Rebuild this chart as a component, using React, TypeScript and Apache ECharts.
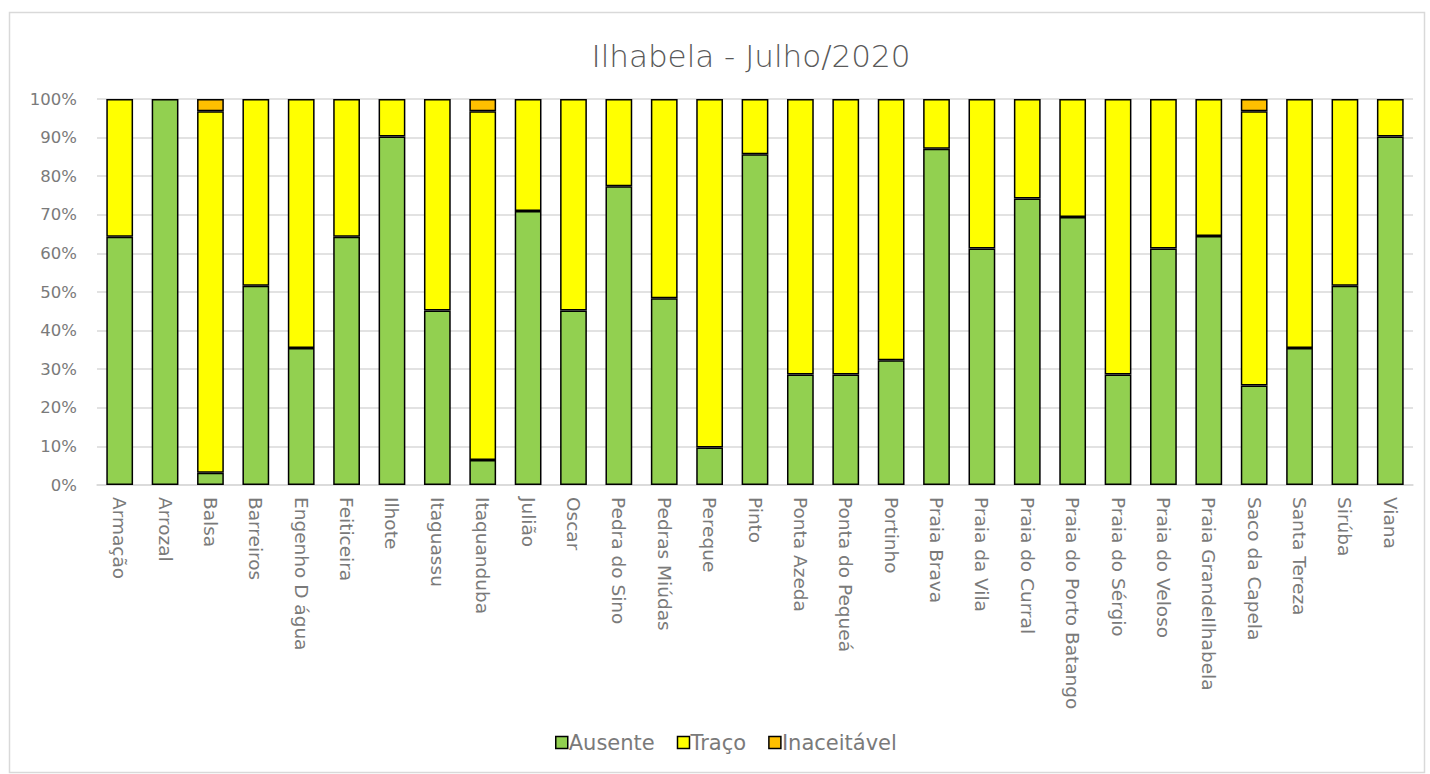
import React, { useEffect, useRef } from "react";
import * as echarts from "echarts";

const categories = [
  "Armação", "Arrozal", "Balsa", "Barreiros", "Engenho D água", "Feiticeira", "Ilhote",
  "Itaguassu", "Itaquanduba", "Julião", "Oscar", "Pedra do Sino", "Pedras Miúdas", "Pereque",
  "Pinto", "Ponta Azeda", "Ponta do Pequeá", "Portinho", "Praia Brava", "Praia da Vila",
  "Praia do Curral", "Praia do Porto Batango", "Praia do Sérgio", "Praia do Veloso",
  "Praia GrandeIlhabela", "Saco da Capela", "Santa Tereza", "Sirúba", "Viana",
];

const ausente = [
  64.3, 100, 3.2, 51.6, 35.5, 64.3, 90.3, 45.2, 6.5, 71.0, 45.2, 77.4, 48.4, 9.7,
  85.7, 28.6, 28.6, 32.3, 87.1, 61.3, 74.2, 69.4, 28.6, 61.3, 64.5, 25.8, 35.5, 51.6, 90.3,
];
const traco = [
  35.7, 0, 93.6, 48.4, 64.5, 35.7, 9.7, 54.8, 90.3, 29.0, 54.8, 22.6, 51.6, 90.3,
  14.3, 71.4, 71.4, 67.7, 12.9, 38.7, 25.8, 30.6, 71.4, 38.7, 35.5, 71.0, 64.5, 48.4, 9.7,
];
const inaceitavel = [
  0, 0, 3.2, 0, 0, 0, 0, 0, 3.2, 0, 0, 0, 0, 0,
  0, 0, 0, 0, 0, 0, 0, 0, 0, 0, 0, 3.2, 0, 0, 0,
];

const seriesNames = ["Ausente", "Traço", "Inaceitável"];
const seriesColors = ["#92d050", "#ffff00", "#ffc000"];
const yTicks = [0, 10, 20, 30, 40, 50, 60, 70, 80, 90, 100];

const FONT = "'DejaVu Sans', sans-serif";
const TEXT = "#7a7a7a";

export default function App() {
  const ref = useRef<HTMLDivElement>(null);
  useEffect(() => {
    if (!ref.current) return;
    const chart = echarts.init(ref.current, null, { renderer: "svg" });
    const data = [ausente, traco, inaceitavel];
    chart.setOption({
      animation: false,
      backgroundColor: "#ffffff",
      graphic: [
        {
          type: "rect",
          shape: { x: 9.5, y: 12.5, width: 1415, height: 760 },
          style: { fill: "none", stroke: "#d9d9d9", lineWidth: 1.5 },
          silent: true,
        },
        {
          type: "text",
          x: 751,
          y: 56,
          style: {
            text: "Ilhabela - Julho/2020",
            fill: "#595959",
            font: `300 31px ${FONT}`,
            textAlign: "center",
            textVerticalAlign: "middle",
          },
        },
      ],
      grid: { left: 97, right: 17, top: 99, bottom: 289, containLabel: false },
      legend: {
        bottom: 16,
        left: 550,
        itemWidth: 12,
        itemHeight: 12,
        itemGap: 22,
        icon: "rect",
        textStyle: { color: TEXT, fontSize: 21, fontFamily: FONT, padding: [0, 0, 0, -4] },
        data: seriesNames.map((n, i) => ({
          name: n,
          itemStyle: { color: seriesColors[i], borderColor: "#000", borderWidth: 1.5 },
        })),
      },
      xAxis: {
        type: "category",
        data: categories,
        axisLine: { show: true, lineStyle: { color: "#d9d9d9", width: 1.5 } },
        axisTick: { show: false },
        axisLabel: {
          rotate: -90,
          interval: 0,
          color: TEXT,
          fontSize: 18.5,
          fontFamily: FONT,
          margin: 12,
        },
      },
      yAxis: {
        type: "value",
        min: yTicks[0],
        max: yTicks[yTicks.length - 1],
        interval: 10,
        axisLine: { show: false },
        axisTick: { show: false },
        splitLine: { lineStyle: { color: "#d9d9d9", width: 1.5 } },
        axisLabel: {
          color: TEXT,
          fontSize: 16.5,
          fontFamily: FONT,
          margin: 20,
          formatter: (v: number) => `${v}%`,
        },
      },
      series: seriesNames.map((name, i) => ({
        name,
        type: "bar",
        stack: "total",
        barWidth: "59%",
        data: data[i].map((v) => (v === 0 ? "-" : v)),
        itemStyle: { color: seriesColors[i], borderColor: "#000", borderWidth: 1.5 },
      })),
    });
    return () => chart.dispose();
  }, []);
  return (
    <div
      ref={ref}
      style={{ position: "absolute", left: 0, top: 0, width: 1430, height: 774 }}
    />
  );
}
